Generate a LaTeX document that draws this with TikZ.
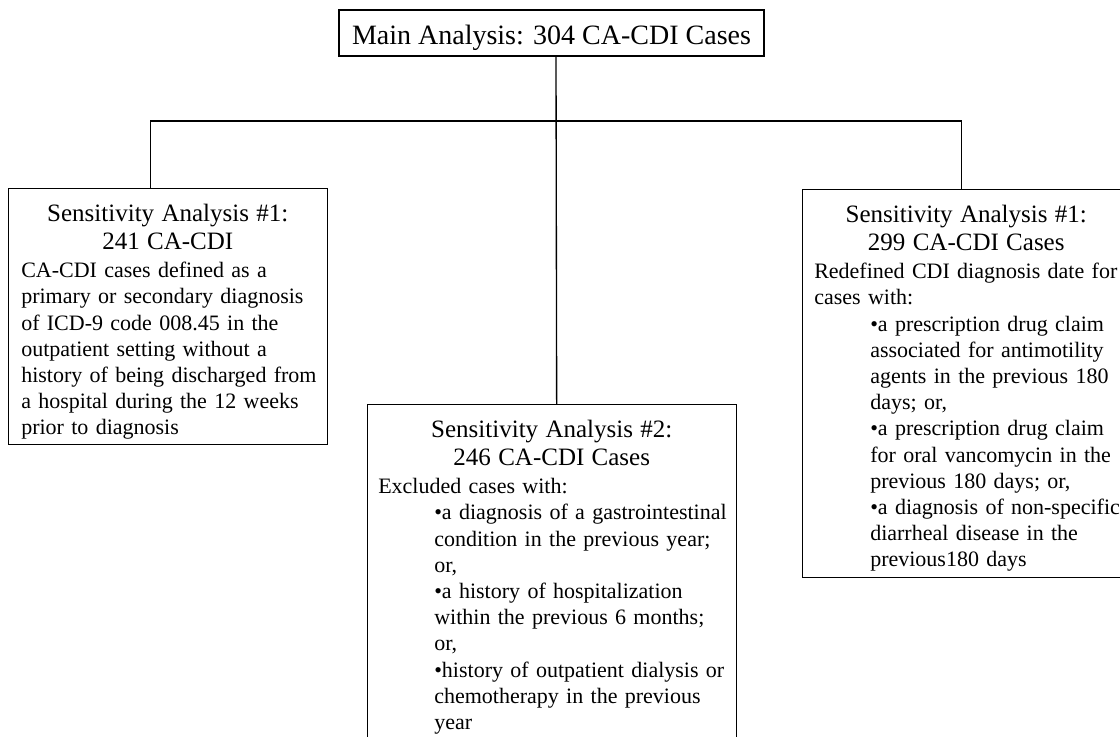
\documentclass[tikz,border=0pt]{standalone}
\usepackage{fontspec}
\setmainfont{Liberation Serif}
\usetikzlibrary{positioning}
\newcommand{\indbul}{\hspace*{42pt}}
\newcommand{\satitle}[1]{{\fontsize{18.75}{21}\selectfont\centering #1\par}\vspace{1.35pt}\noindent}

\begin{document}
\begin{tikzpicture}[
      x=0.75pt, y=-0.75pt,
      mainbox/.style={draw, line width=1pt, inner xsep=0pt, inner ysep=0pt, minimum width=318.75pt, text height=25.5pt, text depth=9pt, font=\fontsize{21}{25}\selectfont},
      sabox/.style={draw, line width=1pt, anchor=north west, inner sep=0pt},
      satext/.style={inner sep=0pt, font=\fontsize{16.5}{19.65}\selectfont},
      link/.style={line width=1pt}
    ]
    \useasboundingbox (0,0) rectangle (1120,736);
    \clip (0,0) rectangle (1120,736);

    \node[mainbox] (main) at (551.5,33) {Main Analysis: 304 CA-CDI Cases};

    \node[sabox, minimum width=239.25pt, minimum height=192pt] (sa1) at (8,188) {};
    \node[sabox, minimum width=276.75pt, minimum height=252pt] (sa2) at (367,404) {};
    \node[sabox, minimum width=246pt, minimum height=291pt] (sa3) at (802,189) {};

    \node[satext, text width=219.75pt, below right=12pt and 9.75pt of sa1.north west] (sa1txt) {%
      \satitle{Sensitivity Analysis \#1:\\241 CA-CDI}%
      \begin{tabular}[t]{@{}l@{}}
        CA-CDI cases defined as a\\
        primary or secondary diagnosis\\
        of ICD-9 code 008.45 in the\\
        outpatient setting without a\\
        history of being discharged from\\
        a hospital during the 12 weeks\\
        prior to diagnosis
      \end{tabular}};

    \node[satext, text width=260.25pt, below right=12pt and 8.25pt of sa2.north west] (sa2txt) {%
      \satitle{Sensitivity Analysis \#2:\\246 CA-CDI Cases}%
      \begin{tabular}[t]{@{}l@{}}
        Excluded cases with:\\
        \indbul •a diagnosis of a gastrointestinal\\
        \indbul condition in the previous year;\\
        \indbul or,\\
        \indbul •a history of hospitalization\\
        \indbul within the previous 6 months;\\
        \indbul or,\\
        \indbul •history of outpatient dialysis or\\
        \indbul chemotherapy in the previous\\
        \indbul year
      \end{tabular}};

    \node[satext, text width=228pt, below right=12pt and 9pt of sa3.north west] (sa3txt) {%
      \satitle{Sensitivity Analysis \#1:\\299 CA-CDI Cases}%
      \begin{tabular}[t]{@{}l@{}}
        Redefined CDI diagnosis date for\\
        cases with:\\
        \indbul •a prescription drug claim\\
        \indbul associated for antimotility\\
        \indbul agents in the previous 180\\
        \indbul days; or,\\
        \indbul •a prescription drug claim\\
        \indbul for oral vancomycin in the\\
        \indbul previous 180 days; or,\\
        \indbul •a diagnosis of non-specific\\
        \indbul diarrheal disease in the\\
        \indbul previous180 days
      \end{tabular}};

    \coordinate (hub) at (556,121);
    \draw[link] ([xshift=3.375pt]main.south) -- ([xshift=3.375pt]sa2.north);
    \draw[link] ([xshift=-13.125pt]sa1.north) |- (hub) -| ([xshift=-3.75pt]sa3.north);
  \end{tikzpicture}
\end{document}
